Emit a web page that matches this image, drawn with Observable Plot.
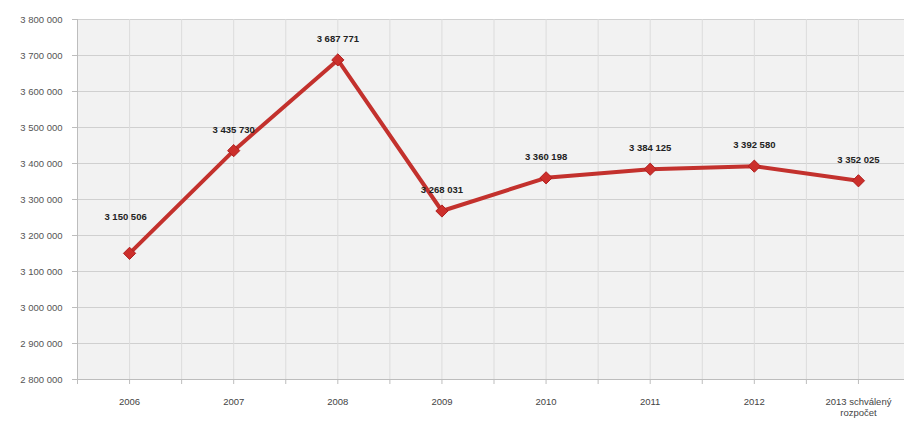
<!DOCTYPE html>
<html>
<head>
<meta charset="utf-8">
<script src="https://cdn.jsdelivr.net/npm/d3@7"></script>
<script src="https://cdn.jsdelivr.net/npm/@observablehq/plot@0.6"></script>
<style>
  html, body { margin: 0; padding: 0; background: #fff; }
  #chart svg { display: block; }
</style>
</head>
<body>
<div id="chart"></div>
<script>
const categories = ["2006", "2007", "2008", "2009", "2010", "2011", "2012", "2013 schválený\nrozpočet"];
const values = [3150506, 3435730, 3687771, 3268031, 3360198, 3384125, 3392580, 3352025];
const yTicks = [2800000, 2900000, 3000000, 3100000, 3200000, 3300000, 3400000, 3500000, 3600000, 3700000, 3800000];

const data = categories.map((c, i) => ({i, category: c, value: values[i]}));
const fmt = d3.formatLocale({thousands: " ", grouping: [3], decimal: ","}).format(",");
const halfSteps = d3.range(-0.5, categories.length, 0.5);

const chart = Plot.plot({
  width: 904,
  height: 421,
  marginLeft: 77,
  marginRight: 0,
  marginTop: 19,
  marginBottom: 42,
  style: {fontFamily: "Liberation Sans, Arial, sans-serif", background: "#fff"},
  x: {type: "linear", domain: [-0.5, categories.length - 0.5], range: [77, 910]},
  y: {type: "linear", domain: [2800000, 3800000]},
  marks: [
    Plot.frame({fill: "#f2f2f2", stroke: null}),
    Plot.gridY(yTicks, {stroke: "#d0d0d0", strokeOpacity: 1, strokeWidth: 1.2}),
    Plot.gridX(halfSteps, {stroke: "#dcdcdc", strokeOpacity: 1, strokeWidth: 1}),
    Plot.ruleY([2800000], {stroke: "#bdbdbd"}),
    Plot.ruleX([-0.5], {stroke: "#bdbdbd"}),
    Plot.axisY(yTicks, {tickFormat: fmt, tickSize: 5, tickPadding: 10, stroke: "#bdbdbd", fill: "#555", fontSize: 9.5, label: null}),
    Plot.axisX(halfSteps, {tickFormat: () => "", tickSize: 5, stroke: "#bdbdbd", label: null}),
    Plot.axisX(categories.map((c, i) => i), {tickFormat: i => categories[i], tickSize: 0, tickPadding: 17, fill: "#444", fontSize: 9.5, lineHeight: 1.2, label: null}),
    Plot.line(data, {x: "i", y: "value", stroke: "#c3312d", strokeWidth: 4}),
    Plot.dot(data, {x: "i", y: "value", symbol: "diamond2", r: 5.5, fill: "#cc2f2b", stroke: "#b02020", strokeWidth: 1}),
    Plot.text(data.filter(d => d.i > 0), {x: "i", y: "value", text: d => fmt(d.value), dy: -21, fontSize: 9.5, fontWeight: "bold", fill: "#222"}),
    Plot.text(data.filter(d => d.i === 0), {x: "i", y: "value", text: d => fmt(d.value), dy: -36, dx: -4, fontSize: 9.5, fontWeight: "bold", fill: "#222"})
  ]
});
document.getElementById("chart").append(chart);
</script>
</body>
</html>
